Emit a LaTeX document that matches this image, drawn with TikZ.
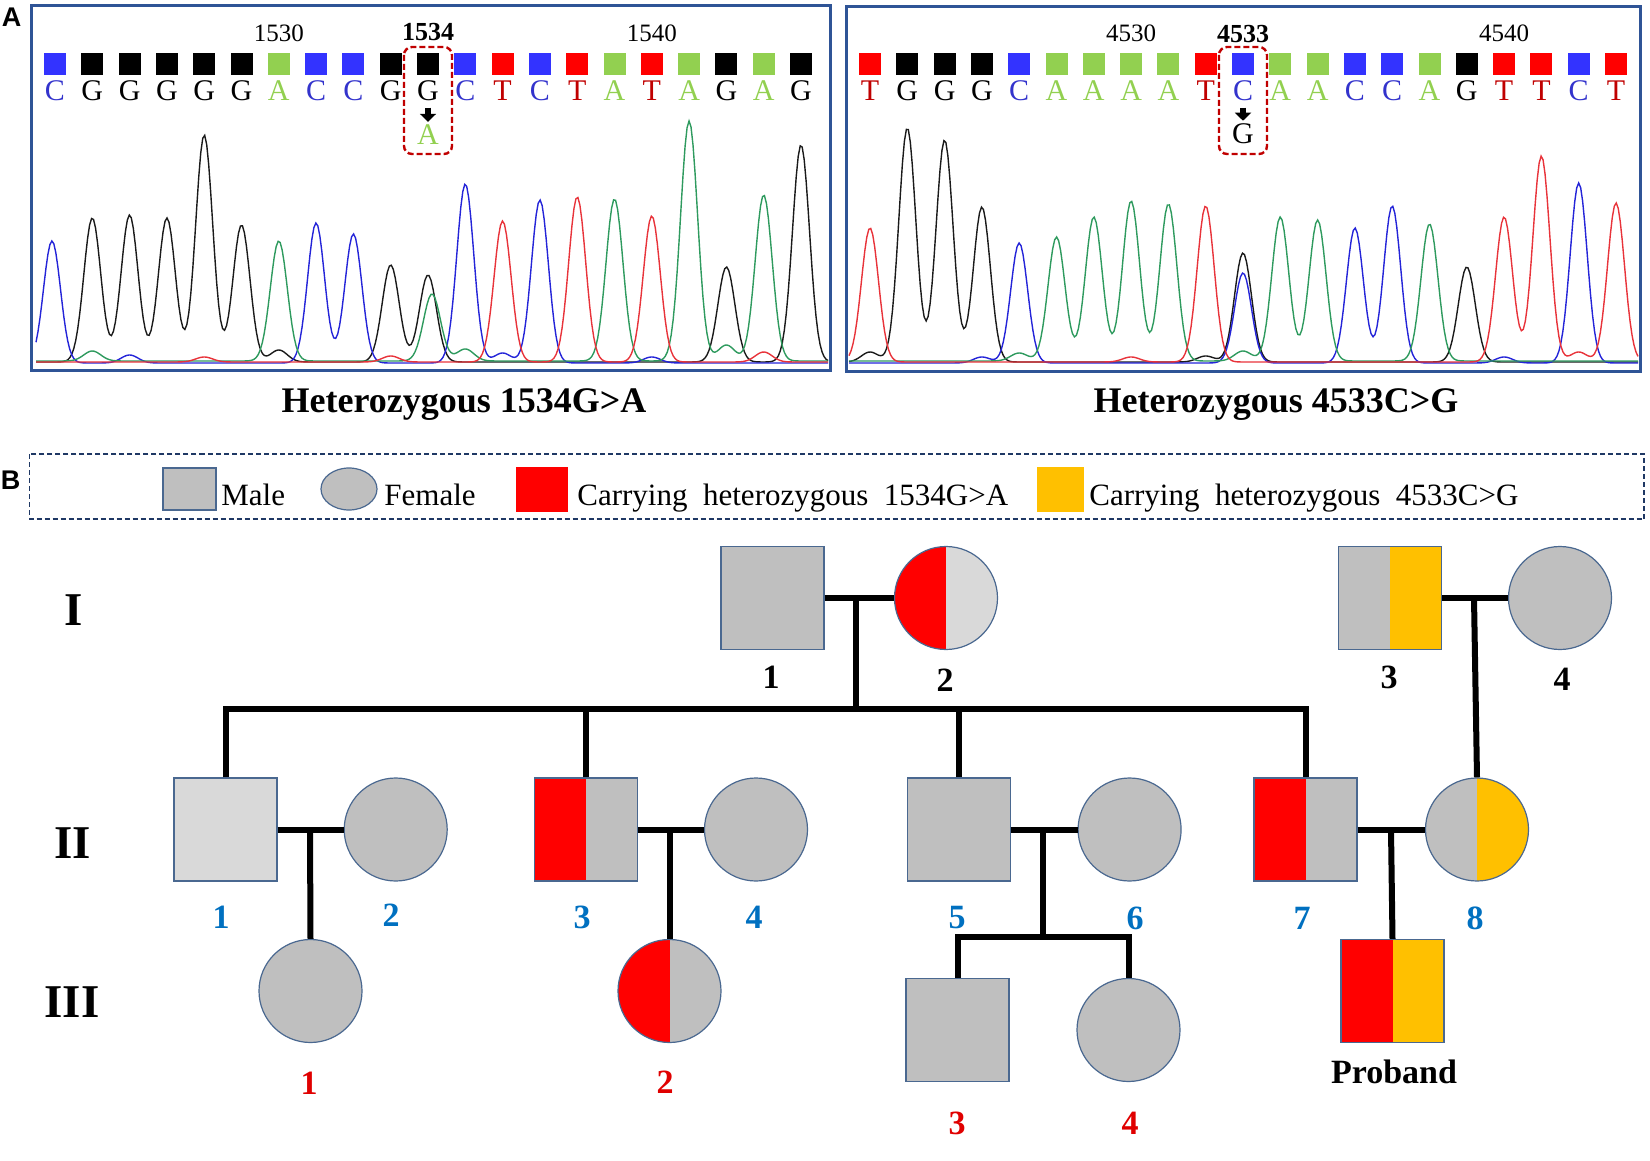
\documentclass[tikz,border=0pt]{standalone}
\usepackage{fontspec}
\setmainfont{Liberation Serif}
\newfontfamily\panelfont{Liberation Sans}
\usetikzlibrary{arrows.meta,shapes.geometric}

\definecolor{sqA}{HTML}{92D050}
\definecolor{sqC}{HTML}{3333FF}
\definecolor{sqG}{HTML}{000000}
\definecolor{sqT}{HTML}{FF0000}
\definecolor{ltA}{HTML}{92D050}
\definecolor{ltC}{HTML}{3333CC}
\definecolor{ltG}{HTML}{000000}
\definecolor{ltT}{HTML}{C00000}
\definecolor{trA}{HTML}{2E9A5E}
\definecolor{trC}{HTML}{2424D8}
\definecolor{trG}{HTML}{1A1A1A}
\definecolor{trT}{HTML}{E8333A}
\definecolor{panelblue}{HTML}{2F5496}
\definecolor{legblue}{HTML}{1F3864}
\definecolor{mutred}{HTML}{C00000}
\definecolor{pgray}{HTML}{BFBFBF}
\definecolor{plgray}{HTML}{D9D9D9}
\definecolor{pred}{HTML}{FF0000}
\definecolor{porange}{HTML}{FFC000}
\definecolor{pedge}{HTML}{4A6890}
\definecolor{numblue}{HTML}{0070C0}
\definecolor{numred}{HTML}{E00000}

\begin{document}
\begin{tikzpicture}[x=0.5pt,y=-0.5pt,
	declare function={pk(\xx,\xc,\xh)=\xh*exp(-min(((\xx-\xc)/8.5)*((\xx-\xc)/8.5)/2,12));},
	panel/.style={draw=panelblue,line width=1.5pt},
	panellab/.style={inner sep=0pt,font=\fontsize{13.5}{13.5}\selectfont\panelfont\bfseries},
	basesq/.style={minimum size=11pt,inner sep=0pt},
	baselt/.style={anchor=base,inner sep=0pt,font=\fontsize{15}{15}\selectfont},
	posnum/.style={inner sep=0pt,font=\fontsize{12.5}{12.5}\selectfont},
	mutbox/.style={draw=mutred,line width=1.2pt,dash pattern=on 3pt off 1.5pt,rounded corners=4pt},
	mutarrow/.style={-{Triangle[width=8pt,length=4pt]},line width=3pt,shorten <=3pt,shorten >=1.5pt},
	trace/.style={line width=0.7pt},
	title/.style={anchor=base,inner sep=0pt,font=\fontsize{18}{18}\selectfont\bfseries},
	legtxt/.style={anchor=base west,inner sep=0pt,font=\fontsize{15.5}{15.5}\selectfont},
	ped/.style={line width=3pt},
	male/.style={draw=pedge,line width=0.6pt,fill=pgray,minimum size=51.5pt,inner sep=0pt},
	female/.style={male,circle},
	split/.style 2 args={fill=#2,path picture={\fill[#1] (path picture bounding box.south west) rectangle (path picture bounding box.north);}},
	genlab/.style={inner sep=0pt,font=\fontsize{23.5}{23.5}\selectfont\bfseries},
	idI/.style={inner sep=0pt,font=\fontsize{17}{17}\selectfont\bfseries},
	idII/.style={idI,text=numblue},
	idIII/.style={idI,text=numred}]
	\useasboundingbox (0,0) rectangle (1650,1161);

	% panel A: chromatograms
	\node[panellab] (labA) at (11.5,17.5) {A};
	\draw[trace,trG] plot[domain=36:828,samples=400] (\x,{362-pk(\x,92.3,144)-pk(\x,129.6,147)-pk(\x,166.9,144)-pk(\x,204.2,227)-pk(\x,241.5,137)-pk(\x,390.7,97)-pk(\x,428,87)-pk(\x,726.4,95)-pk(\x,801,217)-pk(\x,278.8,12)});
	\draw[trace,trC] plot[domain=36:828,samples=400] (\x,{363-pk(\x,52,122)-pk(\x,316.1,140)-pk(\x,353.4,129)-pk(\x,465.3,179)-pk(\x,539.9,163)-pk(\x,129.6,8)-pk(\x,502.6,10)-pk(\x,651.8,6)});
	\draw[trace,trA] plot[domain=36:828,samples=400] (\x,{361-pk(\x,278.8,120)-pk(\x,432,67)-pk(\x,614.5,162)-pk(\x,689.1,240)-pk(\x,763.7,166)-pk(\x,92.3,10)-pk(\x,465.3,12)-pk(\x,726.4,16)});
	\draw[trace,trT] plot[domain=36:828,samples=400] (\x,{362-pk(\x,502.6,141)-pk(\x,577.2,165)-pk(\x,651.8,146)-pk(\x,204.2,5)-pk(\x,390.7,6)-pk(\x,763.7,10)});
	\draw[trace,trG] plot[domain=849:1638,samples=400] (\x,{362-pk(\x,907.3,234)-pk(\x,944.6,222)-pk(\x,981.9,155)-pk(\x,1243,109)-pk(\x,1466.8,95)-pk(\x,870,10)-pk(\x,1205.7,6)});
	\draw[trace,trC] plot[domain=849:1638,samples=400] (\x,{363-pk(\x,1019.2,120)-pk(\x,1243,90)-pk(\x,1354.9,135)-pk(\x,1392.2,157)-pk(\x,1578.7,180)-pk(\x,981.9,6)-pk(\x,1504.1,6)});
	\draw[trace,trA] plot[domain=849:1638,samples=400] (\x,{361-pk(\x,1056.5,124)-pk(\x,1093.8,144)-pk(\x,1131.1,160)-pk(\x,1168.4,157)-pk(\x,1280.3,144)-pk(\x,1317.6,141)-pk(\x,1429.5,137)-pk(\x,1019.2,8)-pk(\x,1243,10)});
	\draw[trace,trT] plot[domain=849:1638,samples=400] (\x,{362-pk(\x,870,134)-pk(\x,1205.7,156)-pk(\x,1504.1,145)-pk(\x,1541.4,206)-pk(\x,1616,159)-pk(\x,1131.1,5)-pk(\x,1578.7,10)});
	\draw[panel] (31,6) rectangle (830,370);
	\draw[panel] (846,7) rectangle (1640,371);

	% base calls
	\foreach \b [count=\i from 0] in {C,G,G,G,G,G,A,C,C,G,G,C,T,C,T,A,T,A,G,A,G}{
		\node[basesq,fill=sq\b] (Lsq\i) at ({55+37.3*\i},64) {};
		\node[baselt,text=lt\b] (Lbase\i) at ({55+37.3*\i},101) {\b};
	}
	\foreach \b [count=\i from 0] in {T,G,G,G,C,A,A,A,A,T,C,A,A,C,C,A,G,T,T,C,T}{
		\node[basesq,fill=sq\b] (Rsq\i) at ({870+37.3*\i},64) {};
		\node[baselt,text=lt\b] (Rbase\i) at ({870+37.3*\i},101) {\b};
	}
	\node[posnum] (L1530) at (278.8,33) {1530};
	\node[posnum,font=\fontsize{13}{13}\selectfont\bfseries] (L1534) at (428,32) {1534};
	\node[posnum] (L1540) at (651.8,33) {1540};
	\node[posnum] (R4530) at (1131.1,33) {4530};
	\node[posnum,font=\fontsize{13}{13}\selectfont\bfseries] (R4533) at (1243,34) {4533};
	\node[posnum] (R4540) at (1504.1,33) {4540};
	\node[baselt,text=ltA] (Lmut) at (428,145) {A};
	\node[baselt,text=ltG] (Rmut) at (1243,144) {G};
	\draw[mutarrow] (Lbase10.south) -- (Lmut.north);
	\draw[mutarrow] (Rbase10.south) -- (Rmut.north);
	\draw[mutbox] (404,47) rectangle (452,154);
	\draw[mutbox] (1219,47) rectangle (1267,154);
	\node[title] (titL) at (464,412) {Heterozygous 1534G>A};
	\node[title] (titR) at (1276,412) {Heterozygous 4533C>G};

	% panel B: legend
	\node[panellab] (labB) at (10.5,480) {B};
	\draw[draw=legblue,line width=0.8pt,dash pattern=on 2.5pt off 1.5pt] (29.5,454) rectangle (1644,519);
	\node[male,minimum width=26.5pt,minimum height=21pt] (legM) at (189.5,489) {};
	\node[legtxt] (legMt) at (221,505) {Male};
	\node[male,ellipse,minimum width=28pt,minimum height=21pt] (legF) at (349,489) {};
	\node[legtxt] (legFt) at (384,505) {Female};
	\node[fill=pred,inner sep=0pt,minimum width=26pt,minimum height=22.5pt] (legR) at (542,489.5) {};
	\node[legtxt] (legRt) at (577,505) {Carrying~ heterozygous~ 1534G>A};
	\node[fill=porange,inner sep=0pt,minimum width=23.5pt,minimum height=22.5pt] (legO) at (1060.5,489.5) {};
	\node[legtxt] (legOt) at (1089,505) {Carrying~ heterozygous~ 4533C>G};

	% pedigree
	\node[genlab] (genI) at (74,610) {I};
	\node[genlab] (genII) at (73,843) {II};
	\node[genlab] (genIII) at (72,1002) {III};

	\node[male] (I1) at (772.5,598) {};
	\node[female,split={pred}{plgray}] (I2) at (946,598) {};
	\node[male,split={pgray}{porange}] (I3) at (1390,598) {};
	\node[female] (I4) at (1560,598) {};

	\node[male,fill=plgray] (II1) at (225.5,829.5) {};
	\node[female] (II2) at (395.7,829.5) {};
	\node[male,split={pred}{pgray}] (II3) at (585.8,829.5) {};
	\node[female] (II4) at (756,829.5) {};
	\node[male] (II5) at (959,829.5) {};
	\node[female] (II6) at (1129.6,829.5) {};
	\node[male,split={pred}{pgray}] (II7) at (1305.5,829.5) {};
	\node[female,split={pgray}{porange}] (II8) at (1477,829.5) {};

	\node[female] (III1) at (310.5,991) {};
	\node[female,split={pred}{pgray}] (III2) at (669.5,991) {};
	\node[male] (III3) at (957.5,1030) {};
	\node[female] (III4) at (1128.5,1030) {};
	\node[male,split={pred}{porange}] (pro) at (1392.5,991) {};

	\coordinate (m1) at (856,598);
	\coordinate (s1) at (856,709);
	\coordinate (m2) at (1474,598);
	\coordinate (m3) at (310,829.5);
	\coordinate (m4) at (669.5,829.5);
	\coordinate (m5) at (1043,829.5);
	\coordinate (s5) at (1043,937);
	\coordinate (m7) at (1391,829.5);

	\draw[ped] (I1) -- (I2);
	\draw[ped] (I3) -- (I4);
	\draw[ped] (m1) -- (s1);
	\draw[ped] (II1.north) |- (s1) -| (II7.north);
	\draw[ped] (II3.north) -- (II3.north |- s1);
	\draw[ped] (II5.north) -- (II5.north |- s1);
	\draw[ped] (m2) -- (II8.north);
	\draw[ped] (II1) -- (II2);
	\draw[ped] (II3) -- (II4);
	\draw[ped] (II5) -- (II6);
	\draw[ped] (II7) -- (II8);
	\draw[ped] (m3) -- (III1.north);
	\draw[ped] (m4) -- (III2.north);
	\draw[ped] (m5) -- (s5);
	\draw[ped] (III3.north) |- (s5) -| (III4.north);
	\draw[ped] (m7) -- (pro.north);

	\node[idI] (nI1) at (771,677) {1};
	\node[idI] (nI2) at (945,680) {2};
	\node[idI] (nI3) at (1389,677) {3};
	\node[idI] (nI4) at (1562,679) {4};
	\node[idII] (nII1) at (221,917) {1};
	\node[idII] (nII2) at (391,915) {2};
	\node[idII] (nII3) at (582,917) {3};
	\node[idII] (nII4) at (754,917) {4};
	\node[idII] (nII5) at (957,918) {5};
	\node[idII] (nII6) at (1135,918) {6};
	\node[idII] (nII7) at (1302,918) {7};
	\node[idII] (nII8) at (1475,918) {8};
	\node[idIII] (nIII1) at (309,1083) {1};
	\node[idIII] (nIII2) at (665,1082) {2};
	\node[idIII] (nIII3) at (957,1123) {3};
	\node[idIII] (nIII4) at (1130,1123) {4};
	\node[idI] (nPro) at (1394,1072) {Proband};
\end{tikzpicture}
\end{document}
